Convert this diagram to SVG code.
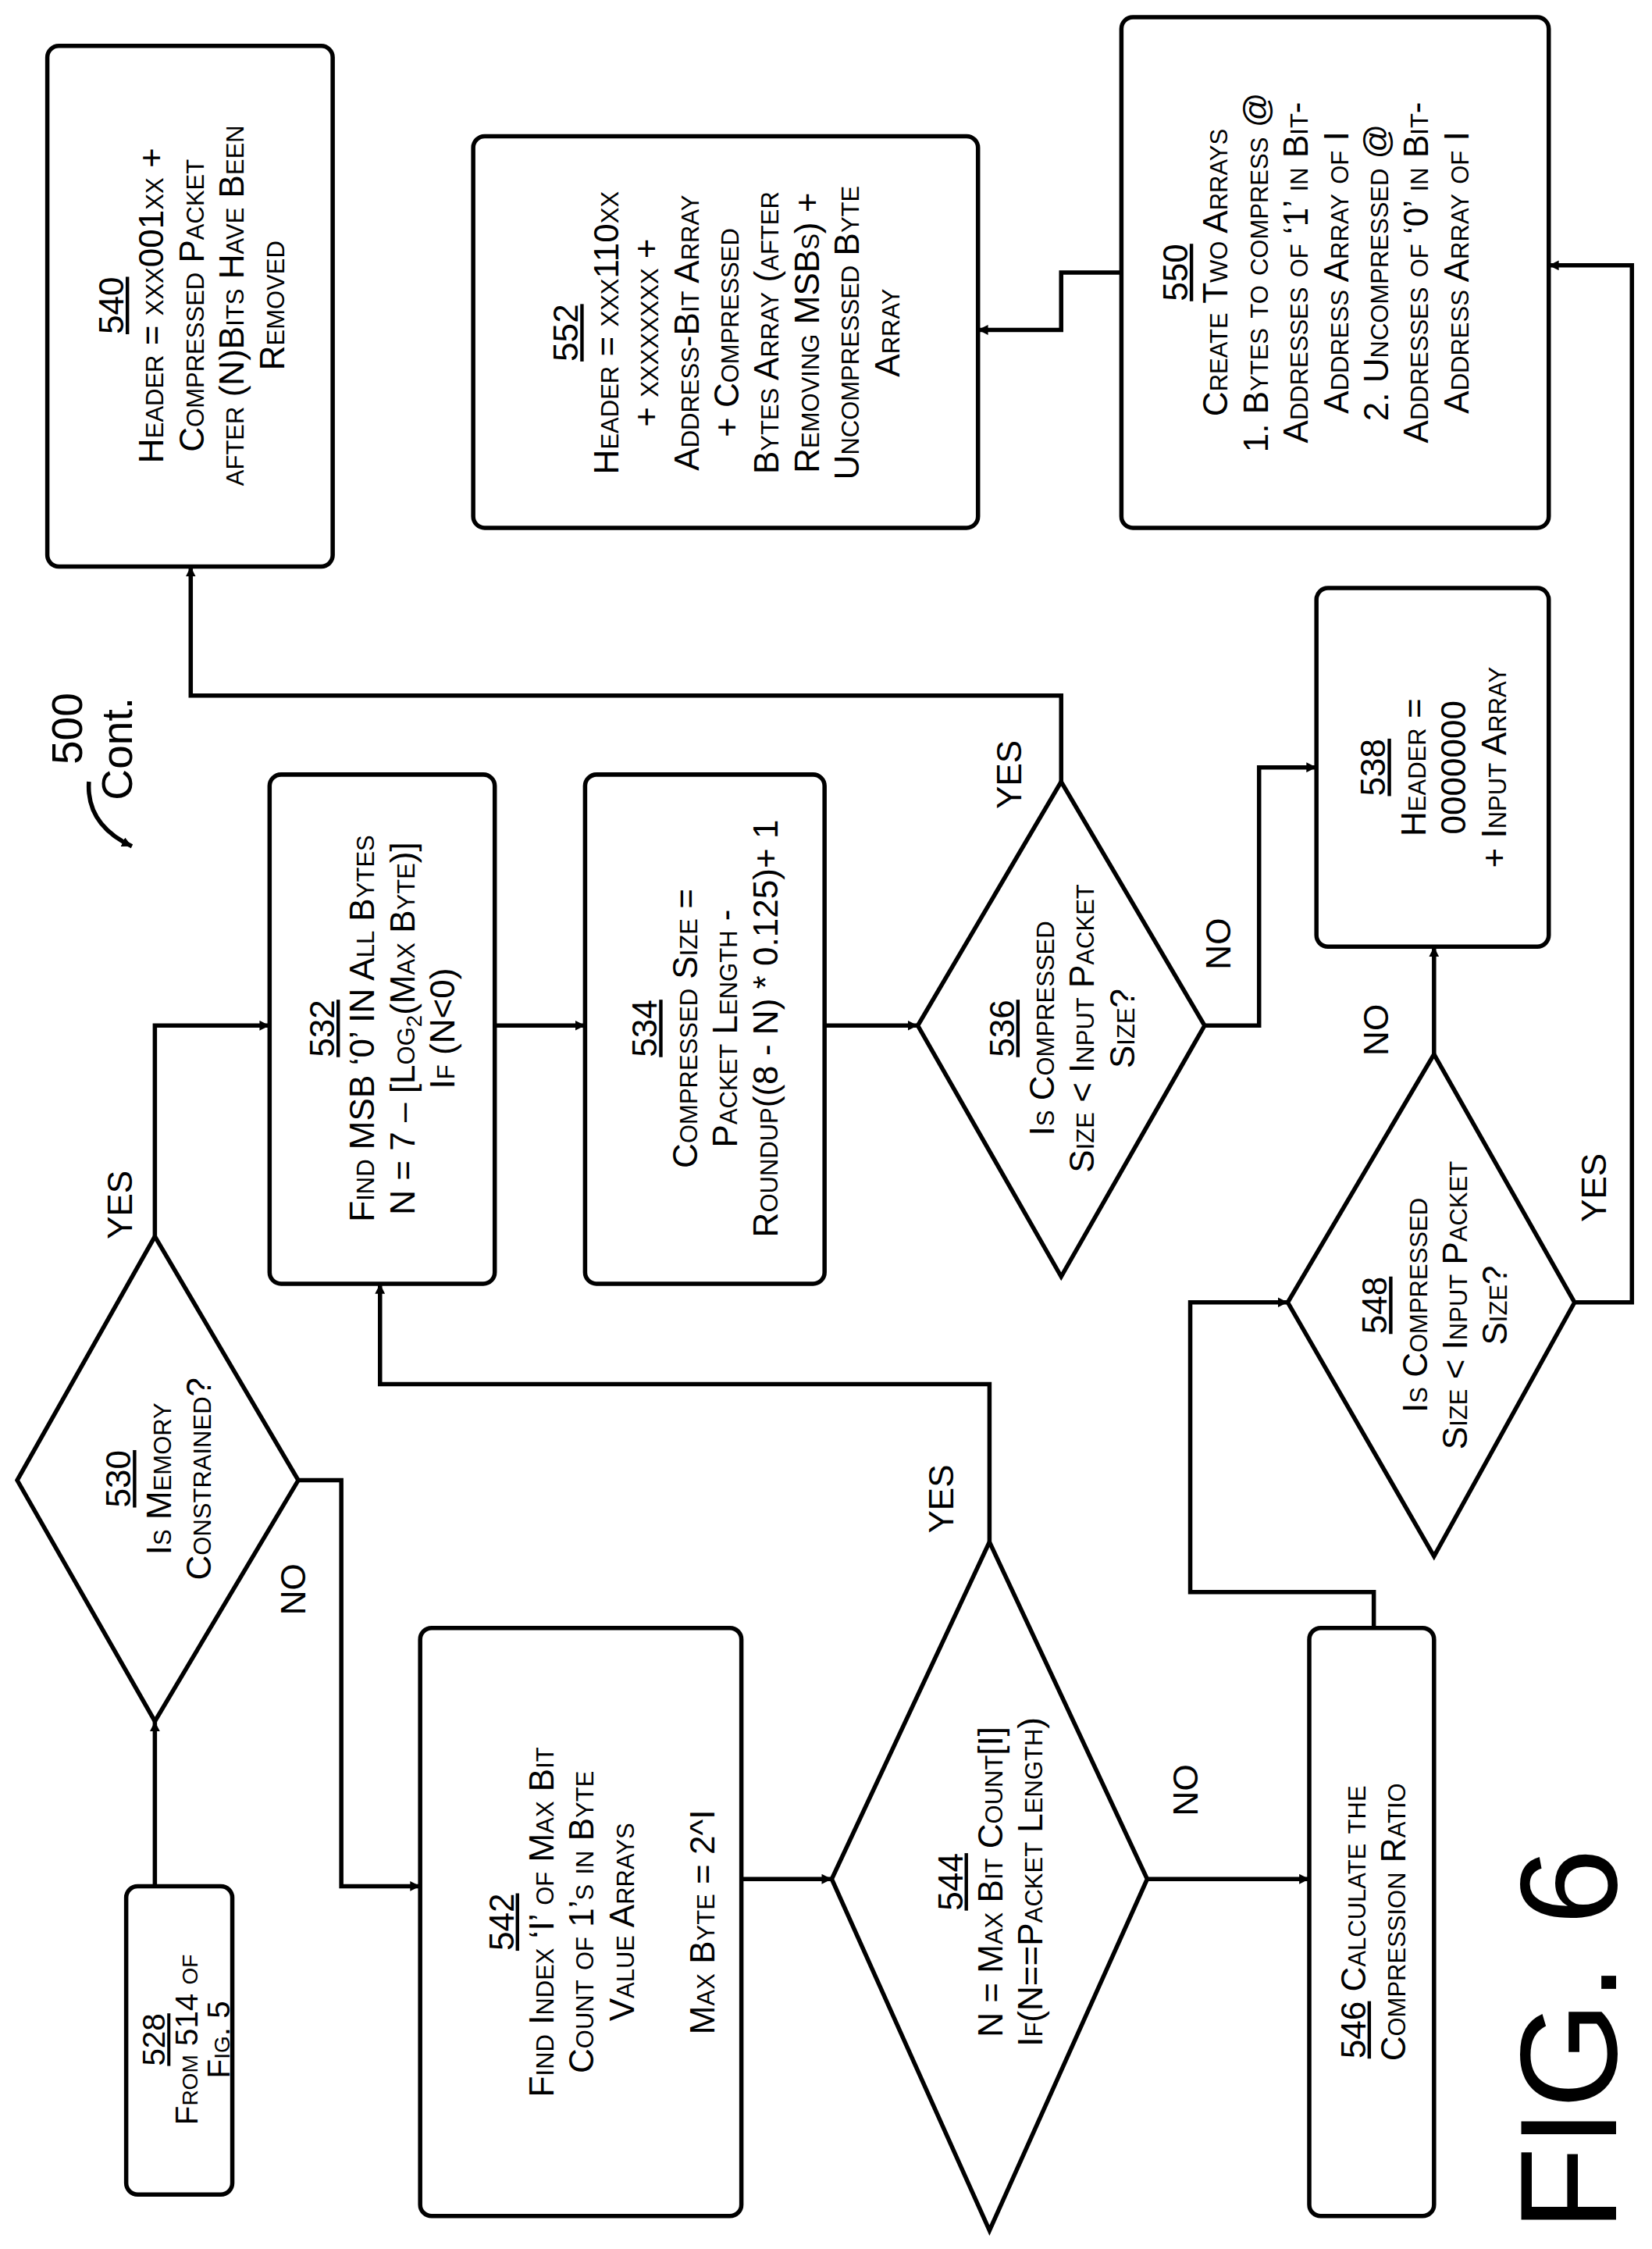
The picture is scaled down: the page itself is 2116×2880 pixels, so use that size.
<svg xmlns="http://www.w3.org/2000/svg" width="2116" height="2880" viewBox="0 0 2116 2880">
<defs>
<style>
.b{fill:#fff;stroke:#000;stroke-width:3}
.c{fill:none;stroke:#000;stroke-width:3}
.t{font-family:"Liberation Sans",Arial,sans-serif;font-size:24px;font-variant:small-caps;text-anchor:middle;fill:#000}
.l{font-family:"Liberation Sans",Arial,sans-serif;font-size:24px;text-anchor:middle;fill:#000}
.u{text-decoration:underline}
</style>
<marker id="a" viewBox="0 0 10 10" refX="10" refY="5" markerWidth="7" markerHeight="7" orient="auto" markerUnits="userSpaceOnUse"><path d="M0,0L10,5L0,10z" fill="#000"/></marker>
</defs>
<rect width="2116" height="2880" fill="#fff"/>
<g transform="scale(1.8368)">
<g id="connectors" class="c">
<path d="M108,1315V1200" marker-end="url(#a)"/>
<path d="M208,1032H238V1315H293" marker-end="url(#a)"/>
<path d="M108,862V715H188" marker-end="url(#a)"/>
<path d="M517,1310H580" marker-end="url(#a)"/>
<path d="M800,1310H913" marker-end="url(#a)"/>
<path d="M690,1075V965H265V895" marker-end="url(#a)"/>
<path d="M345,715H408" marker-end="url(#a)"/>
<path d="M575,715H640" marker-end="url(#a)"/>
<path d="M740,545V485H133V395" marker-end="url(#a)"/>
<path d="M840,715H878V535H918" marker-end="url(#a)"/>
<path d="M958,1135V1110H830V908H898" marker-end="url(#a)"/>
<path d="M1000,735V660" marker-end="url(#a)"/>
<path d="M1098,908H1138V185H1080" marker-end="url(#a)"/>
<path d="M782,190H740V230H682" marker-end="url(#a)"/>
<path d="M62,545Q60,575 92,590" marker-end="url(#a)"/>
</g>
<g id="edge-labels" class="l">
<text transform="translate(213,1108) rotate(-90)">NO</text>
<text transform="translate(92,840) rotate(-90)">YES</text>
<text transform="translate(835,1248) rotate(-90)">NO</text>
<text transform="translate(665,1045) rotate(-90)">YES</text>
<text transform="translate(712,540) rotate(-90)">YES</text>
<text transform="translate(858,658) rotate(-90)">NO</text>
<text transform="translate(968,718) rotate(-90)">NO</text>
<text transform="translate(1120,828) rotate(-90)">YES</text>
</g>
<g id="n528"><rect class="b" x="88" y="1315" width="74" height="215" rx="8"/>
<text class="t" style="font-size:22px" transform="translate(125,1422) rotate(-90)"><tspan x="0" y="-10" class="u">528</tspan><tspan x="0" y="13">From 514 of</tspan><tspan x="0" y="35">Fig. 5</tspan></text></g>
<g id="n530"><polygon class="b" points="108,862 208,1032 108,1200 12,1032"/>
<text class="t" transform="translate(110,1031) rotate(-90)"><tspan x="0" y="-19" class="u">530</tspan><tspan x="0" y="9">Is Memory</tspan><tspan x="0" y="37">Constrained?</tspan></text></g>
<g id="n542"><rect class="b" x="293" y="1135" width="224" height="410" rx="8"/>
<text class="t" transform="translate(405,1340) rotate(-90)"><tspan x="0" y="-47" class="u">542</tspan><tspan x="0" y="-19">Find Index ‘I’ of Max Bit</tspan><tspan x="0" y="9">Count of 1’s in Byte</tspan><tspan x="0" y="37">Value Arrays</tspan><tspan x="0" y="93">Max Byte = 2^I</tspan></text></g>
<g id="n544"><polygon class="b" points="690,1075 800,1310 690,1555 580,1310"/>
<text class="t" transform="translate(690,1312) rotate(-90)"><tspan x="0" y="-19" class="u">544</tspan><tspan x="0" y="9">N = Max Bit Count[I]</tspan><tspan x="0" y="37">If(N==Packet Length)</tspan></text></g>
<g id="n546"><rect class="b" x="913" y="1135" width="87" height="410" rx="8"/>
<text class="t" transform="translate(957,1340) rotate(-90)"><tspan x="0" y="-5"><tspan class="u">546</tspan> Calculate the</tspan><tspan x="0" y="23">Compression Ratio</tspan></text></g>
<g id="n532"><rect class="b" x="188" y="540" width="157" height="355" rx="8"/>
<text class="t" transform="translate(266,717) rotate(-90)"><tspan x="0" y="-33" class="u">532</tspan><tspan x="0" y="-5">Find MSB ‘0’ IN All Bytes</tspan><tspan x="0" y="23">N = 7 – [Log<tspan style="font-size:15px" dy="5">2</tspan><tspan dy="-5">(Max Byte)]</tspan></tspan><tspan x="0" y="51">If (N&lt;0)</tspan></text></g>
<g id="n534"><rect class="b" x="408" y="540" width="167" height="355" rx="8"/>
<text class="t" transform="translate(491,717) rotate(-90)"><tspan x="0" y="-33" class="u">534</tspan><tspan x="0" y="-5">Compressed Size =</tspan><tspan x="0" y="23">Packet Length -</tspan><tspan x="0" y="51">Roundup((8 - N) * 0.125)+ 1</tspan></text></g>
<g id="n536"><polygon class="b" points="740,545 840,715 740,890 640,715"/>
<text class="t" transform="translate(740,717) rotate(-90)"><tspan x="0" y="-33" class="u">536</tspan><tspan x="0" y="-5">Is Compressed</tspan><tspan x="0" y="23">Size &lt; Input Packet</tspan><tspan x="0" y="51">Size?</tspan></text></g>
<g id="n538"><rect class="b" x="918" y="410" width="162" height="250" rx="8"/>
<text class="t" transform="translate(999,535) rotate(-90)"><tspan x="0" y="-33" class="u">538</tspan><tspan x="0" y="-5">Header =</tspan><tspan x="0" y="23">0000000</tspan><tspan x="0" y="51">+ Input Array</tspan></text></g>
<g id="n548"><polygon class="b" points="1000,735 1098,908 1000,1085 898,908"/>
<text class="t" transform="translate(1000,910) rotate(-90)"><tspan x="0" y="-33" class="u">548</tspan><tspan x="0" y="-5">Is Compressed</tspan><tspan x="0" y="23">Size &lt; Input Packet</tspan><tspan x="0" y="51">Size?</tspan></text></g>
<g id="n540"><rect class="b" x="33" y="32" width="199" height="363" rx="8"/>
<text class="t" transform="translate(133,213) rotate(-90)"><tspan x="0" y="-47" class="u">540</tspan><tspan x="0" y="-19">Header = xxx001xx +</tspan><tspan x="0" y="9">Compressed Packet</tspan><tspan x="0" y="37">after (N)Bits Have Been</tspan><tspan x="0" y="65">Removed</tspan></text></g>
<g id="n552"><rect class="b" x="330" y="95" width="352" height="273" rx="8"/>
<text class="t" transform="translate(506,232) rotate(-90)"><tspan x="0" y="-103" class="u">552</tspan><tspan x="0" y="-75">Header = xxx110xx</tspan><tspan x="0" y="-47">+ xxxxxxxx +</tspan><tspan x="0" y="-19">Address-Bit Array</tspan><tspan x="0" y="9">+ Compressed</tspan><tspan x="0" y="37">Bytes Array (after</tspan><tspan x="0" y="65">Removing MSBs) +</tspan><tspan x="0" y="93">Uncompressed Byte</tspan><tspan x="0" y="121">Array</tspan></text></g>
<g id="n550"><rect class="b" x="782" y="12" width="298" height="356" rx="8"/>
<text class="t" transform="translate(931,190) rotate(-90)"><tspan x="0" y="-103" class="u">550</tspan><tspan x="0" y="-75">Create Two Arrays</tspan><tspan x="0" y="-47">1. Bytes to compress @</tspan><tspan x="0" y="-19">Addresses of ‘1’ in Bit-</tspan><tspan x="0" y="9">Address Array of I</tspan><tspan x="0" y="37">2. Uncompressed @</tspan><tspan x="0" y="65">Addresses of ‘0’ in Bit-</tspan><tspan x="0" y="93">Address Array of I</tspan></text></g>
<g id="label500">
<text class="l" style="font-size:30px" transform="translate(57,508) rotate(-90)">500</text>
<text class="l" style="font-size:30px" transform="translate(92,522) rotate(-90)">Cont.</text>
</g>
<text class="l" style="font-size:96px" transform="translate(1127,1422) rotate(-90)">FIG. 6</text>
</g>
</svg>
